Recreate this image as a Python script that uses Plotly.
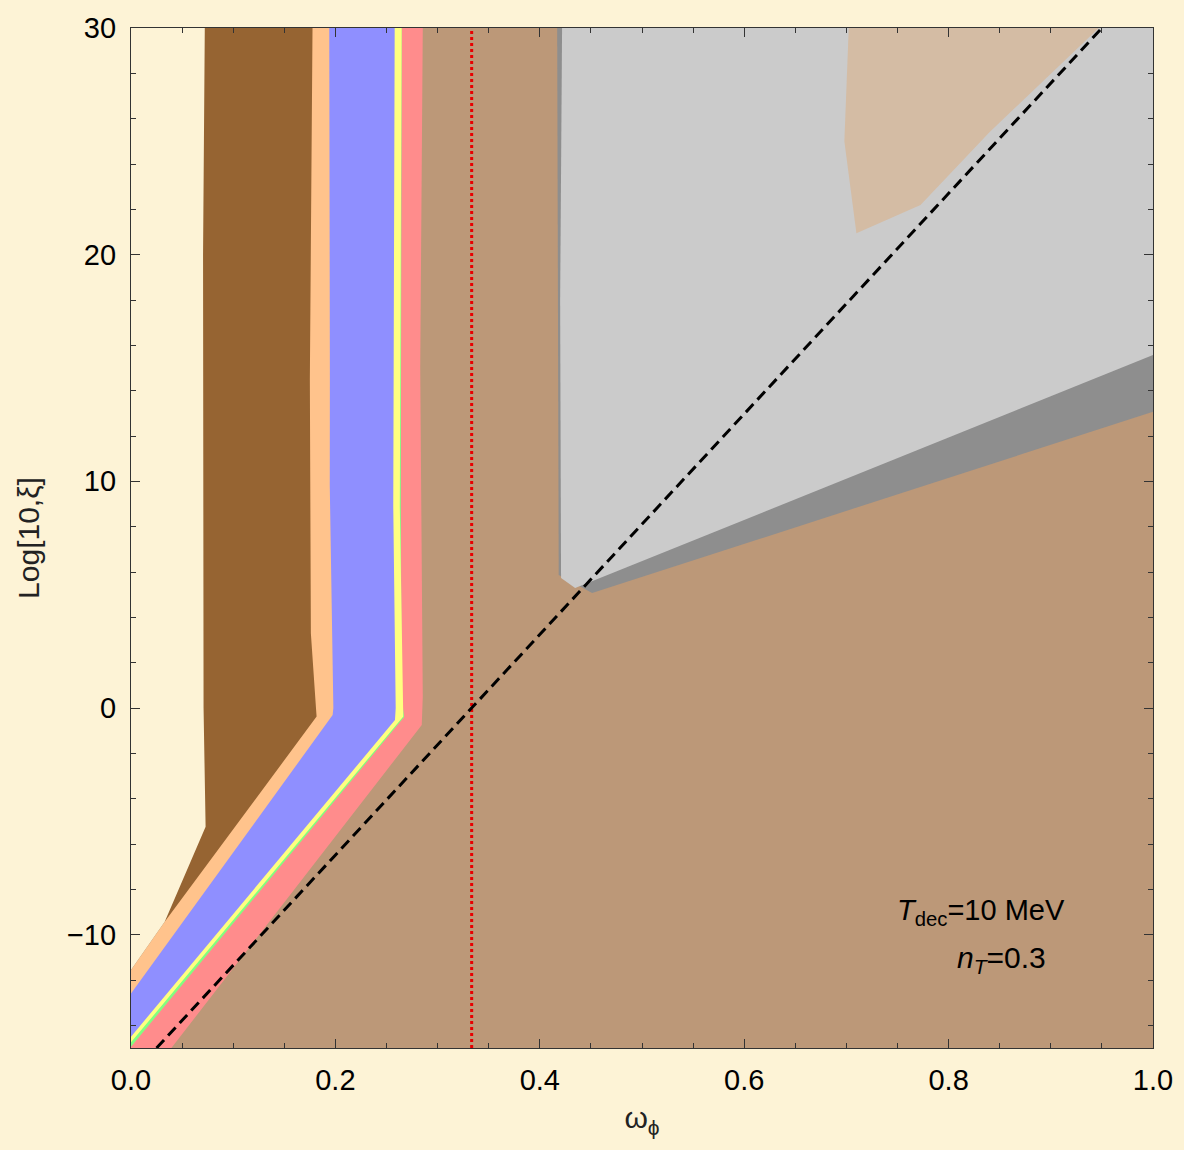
import plotly.graph_objects as go

# ---------------- data ----------------
x_range = [0.0, 1.0]
y_range = [-15.0, 30.0]
x_ticks = [0.0, 0.2, 0.4, 0.6, 0.8, 1.0]
x_tick_labels = ["0.0", "0.2", "0.4", "0.6", "0.8", "1.0"]
y_ticks = [-10, 0, 10, 20, 30]
y_tick_labels = ["\u221210", "0", "10", "20", "30"]

# right-hand boundaries (top -> bottom) of the regions anchored on the left edge
pink_x = [0.2855, 0.283, 0.2855, 0.2845, 0.0395]
pink_y = [30.0, 15.0, 0.5, -0.75, -15.0]
green_x = [0.2648, 0.2640, 0.2648, 0.2672, 0.0]
green_y = [30.0, 8.9, 0.5, -0.40, -14.94]
yellow_x = [0.2648, 0.2630, 0.2658, 0.2664, 0.0]
yellow_y = [30.0, 8.9, 0.5, -0.38, -14.75]
blue_x = [0.2580, 0.2566, 0.2590, 0.2583, 0.0]
blue_y = [30.0, 8.9, 0.0, -0.53, -14.5]
peach_x = [0.1940, 0.1946, 0.1945, 0.1960, 0.1980, 0.1973, 0.0]
peach_y = [30.0, 14.5, 9.8, 5.6, 0.0, -0.31, -12.6]
brown_x = [0.1776, 0.1750, 0.1755, 0.1760, 0.1810, 0.1816, 0.033, 0.0]
brown_y = [30.0, 14.5, 9.0, 3.3, 0.0, -0.38, -9.43, -11.56]
cream_x = [0.0722, 0.0705, 0.0705, 0.0710, 0.0730, 0.033, 0.0]
cream_y = [30.0, 20.0, 10.0, 0.0, -5.24, -9.43, -11.56]

# grey wedge (upper right)
dgray_x = [0.417, 0.4185, 0.4512, 1.0, 1.0]
dgray_y = [30.0, 5.87, 5.07, 13.07, 30.0]
lgray_x = [0.4218, 0.4199, 0.4208, 0.4346, 1.0, 1.0]
lgray_y = [30.0, 18.0, 5.74, 5.29, 15.57, 30.0]
# light tan patch inside the grey wedge
ltan_x = [0.7023, 0.698, 0.7098, 0.7725, 0.840, 0.947]
ltan_y = [30.0, 25.0, 20.94, 22.19, 25.4, 30.0]

# reference lines
dash_x = [0.025, 0.95]
dash_y = [-15.0, 30.0]
red_x = [1 / 3, 1 / 3]
red_y = [-15.0, 30.0]

# ---------------- colours ----------------
PAGE = "#FDF3D6"
TAN = "#BC9878"
colors = {
    "pink": "#FF8C8C",
    "green": "#80FF80",
    "yellow": "#FFFF80",
    "blue": "#8F8FFF",
    "peach": "#FFC38C",
    "brown": "#966432",
    "cream": PAGE,
}

fig = go.Figure()


def left_region(bx, by, color):
    xs = [x_range[0]] + list(bx)
    ys = [y_range[1]] + list(by)
    if bx[-1] != x_range[0]:
        xs.append(x_range[0])
        ys.append(by[-1])
    xs.append(x_range[0])
    ys.append(y_range[1])
    fig.add_trace(go.Scatter(x=xs, y=ys, mode="lines", fill="toself",
                             fillcolor=color, line=dict(width=0, color=color),
                             hoverinfo="skip", showlegend=False))


left_region(pink_x, pink_y, colors["pink"])
left_region(green_x, green_y, colors["green"])
left_region(yellow_x, yellow_y, colors["yellow"])
left_region(blue_x, blue_y, colors["blue"])
left_region(peach_x, peach_y, colors["peach"])
left_region(brown_x, brown_y, colors["brown"])
left_region(cream_x, cream_y, colors["cream"])


def poly(px, py, color):
    fig.add_trace(go.Scatter(x=list(px) + [px[0]], y=list(py) + [py[0]],
                             mode="lines", fill="toself", fillcolor=color,
                             line=dict(width=0, color=color),
                             hoverinfo="skip", showlegend=False))


poly(dgray_x, dgray_y, "#8E8E8E")
poly(lgray_x, lgray_y, "#CBCBCB")
poly(ltan_x, ltan_y, "#D4BCA4")

fig.add_trace(go.Scatter(x=red_x, y=red_y, mode="lines",
                         line=dict(color="#E80000", width=3, dash="dot"),
                         hoverinfo="skip", showlegend=False))
fig.add_trace(go.Scatter(x=dash_x, y=dash_y, mode="lines",
                         line=dict(color="black", width=3, dash="11px,6px"),
                         hoverinfo="skip", showlegend=False))

FONT = "Liberation Sans, Arial, sans-serif"

fig.add_annotation(x=0.832, y=-9.0, xref="x", yref="y", showarrow=False,
                   text="<i>T</i><sub>dec</sub>=10 MeV",
                   font=dict(family=FONT, size=29, color="black"))
fig.add_annotation(x=0.852, y=-11.1, xref="x", yref="y", showarrow=False,
                   text="<i>n</i><sub><i>T</i></sub>=0.3",
                   font=dict(family=FONT, size=30, color="black"))

axis_common = dict(
    showline=True, linecolor="#333333", linewidth=1.2, mirror="allticks",
    ticks="inside", ticklen=9, tickwidth=1.2, tickcolor="#333333",
    showgrid=False, zeroline=False,
    tickfont=dict(family=FONT, size=29, color="black"),
)

fig.update_xaxes(
    range=x_range, tickmode="array", tickvals=x_ticks, ticktext=x_tick_labels,
    minor=dict(ticks="inside", ticklen=5, tickwidth=1, tickcolor="#333333",
               tickmode="linear", tick0=0, dtick=0.05, showgrid=False),
    title=dict(text="\u03c9<sub>\u03d5</sub>", standoff=12,
               font=dict(family=FONT, size=30, color="#222222")),
    ticklabelstandoff=6,
    **axis_common,
)
fig.update_yaxes(
    range=y_range, tickmode="array", tickvals=y_ticks, ticktext=y_tick_labels,
    minor=dict(ticks="inside", ticklen=5, tickwidth=1, tickcolor="#333333",
               tickmode="linear", tick0=0, dtick=2, showgrid=False),
    title=dict(text="Log[10,\u03be]", standoff=18,
               font=dict(family=FONT, size=30, color="#222222")),
    ticklabelstandoff=8,
    **axis_common,
)

fig.update_layout(
    width=1184, height=1150,
    margin=dict(l=131, r=31, t=28, b=102),
    paper_bgcolor=PAGE, plot_bgcolor=TAN,
    showlegend=False,
)

fig.write_html("out.html")
